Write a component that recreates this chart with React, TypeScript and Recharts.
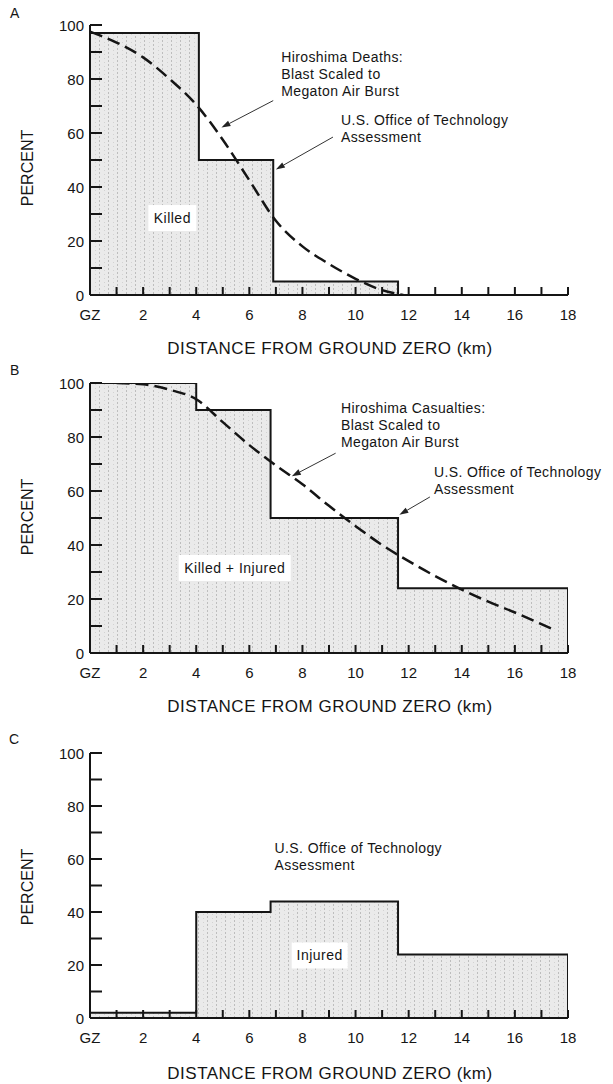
import React from 'react';
import { ComposedChart, Area, Line, XAxis, YAxis, ReferenceLine, ReferenceDot } from 'recharts';

const FONT = '"Liberation Sans", Arial, Helvetica, sans-serif';
const INK = '#151515';

// axis ticks (km from ground zero, percent)
const xTicks = [0, 1, 2, 3, 4, 5, 6, 7, 8, 9, 10, 11, 12, 13, 14, 15, 16, 17, 18];
const yTicks = [0, 10, 20, 30, 40, 50, 60, 70, 80, 90, 100];

// Panel A: killed (OTA step) and Hiroshima deaths curve
const killedX = [0, 4.1, 6.9, 11.6];
const killedPct = [97, 50, 5, 0];
const deathsX = [0, 1, 2, 3, 4, 5, 6, 7, 8, 9, 10, 11, 11.8];
const deathsPct = [97.5, 93.5, 88, 80, 70.5, 57.5, 42.5, 27.5, 18, 11.5, 6, 1.8, 0];

// Panel B: killed + injured (OTA step) and Hiroshima casualties curve
const casualtyX = [0, 4, 6.8, 11.6, 18];
const casualtyPct = [100, 90, 50, 24, 0];
const casualtiesCurveX = [1, 2, 3, 4, 5, 6, 7, 8, 9, 10, 11, 12, 13, 14, 15, 16, 17, 17.5];
const casualtiesCurvePct = [100, 99.5, 97.5, 94, 85.5, 77, 69.5, 62.5, 54.5, 47, 40, 34, 28.5, 23.5, 19, 15, 10.7, 8.5];

// Panel C: injured (OTA step)
const injuredX = [0, 4, 6.8, 11.6, 18];
const injuredPct = [2, 40, 44, 24, 0];

const zip = (xs: number[], ys: number[]) => xs.map((x, i) => ({ x, y: ys[i] }));

const YTick = (props: any) => {
  const { x, y, payload } = props;
  const v = payload.value;
  return (
    <g>
      {v !== 0 && <line x1={x} x2={x + 12} y1={y} y2={y} stroke={INK} strokeWidth={2} />}
      {v % 20 === 0 && (
        <text x={x - 6} y={y} textAnchor="end" dominantBaseline="central" fontSize={15} fill={INK} fontFamily={FONT}>
          {v}
        </text>
      )}
    </g>
  );
};

const XTick = (props: any) => {
  const { x, y, payload } = props;
  const v = payload.value;
  return (
    <g>
      {v !== 0 && <line x1={x} x2={x} y1={y} y2={y - 8} stroke={INK} strokeWidth={2} />}
      {v % 2 === 0 && (
        <text x={x} y={y + 19} textAnchor="middle" dominantBaseline="central" fontSize={15} fill={INK} fontFamily={FONT}>
          {v === 0 ? 'GZ' : v}
        </text>
      )}
    </g>
  );
};

const arrowShape = (p: any) => {
  const { x1, y1, x2, y2 } = p;
  const ang = Math.atan2(y2 - y1, x2 - x1);
  const L = 9;
  const W = 3;
  const bx = x2 - L * Math.cos(ang);
  const by = y2 - L * Math.sin(ang);
  const px = -Math.sin(ang) * W;
  const py = Math.cos(ang) * W;
  return (
    <g>
      <line x1={x1} y1={y1} x2={bx} y2={by} stroke="#333" strokeWidth={1} />
      <polygon points={`${x2},${y2} ${bx + px},${by + py} ${bx - px},${by - py}`} fill="#222" />
    </g>
  );
};

const noteShape = (lines: string[]) => (p: any) => (
  <g>
    {lines.map((l, i) => (
      <text
        key={i}
        x={p.cx}
        y={p.cy + i * 17}
        textAnchor="start"
        dominantBaseline="central"
        fontSize={14}
        letterSpacing={0.4}
        fill={INK}
        fontFamily={FONT}
      >
        {l}
      </text>
    ))}
  </g>
);

const boxedShape = (label: string, w: number) => (p: any) => (
  <g>
    <rect x={p.cx - w / 2} y={p.cy - 13} width={w} height={26} fill="#fff" />
    <text x={p.cx} y={p.cy} textAnchor="middle" dominantBaseline="central" fontSize={14} letterSpacing={0.5} fill={INK} fontFamily={FONT}>
      {label}
    </text>
  </g>
);

type Note = { x: number; y: number; lines: string[] };
type Arrow = { from: [number, number]; to: [number, number] };
type Boxed = { x: number; y: number; label: string; w: number };

type PanelProps = {
  id: string;
  top: number;
  plotH: number;
  steps: { x: number; y: number }[];
  curve?: { x: number; y: number }[];
  notes: Note[];
  arrows: Arrow[];
  boxed: Boxed;
};

const Panel = ({ id, top, plotH, steps, curve, notes, arrows, boxed }: PanelProps) => {
  const H = 25 + plotH + 65;
  return (
    <div style={{ position: 'absolute', left: 0, top, width: 613, height: H }}>
      <ComposedChart width={613} height={H} margin={{ top: 25, right: 45, bottom: 5, left: 0 }}>
        <defs>
          <pattern id={`dots-${id}`} patternUnits="userSpaceOnUse" width={9} height={4}>
            <rect x={0} y={0} width={9} height={4} fill="#eaeaea" />
            <rect x={0} y={0} width={1} height={2} fill="#bdbdbd" />
            <rect x={5} y={2} width={1} height={1} fill="#d2d2d2" />
          </pattern>
        </defs>
        <Area
          data={steps}
          dataKey="y"
          type="stepAfter"
          stroke={INK}
          strokeWidth={2}
          fill={`url(#dots-${id})`}
          fillOpacity={1}
          baseValue={0}
          isAnimationActive={false}
        />
        {curve && (
          <Line
            data={curve}
            dataKey="y"
            type="monotone"
            stroke={INK}
            strokeWidth={2.5}
            strokeDasharray="13 6"
            dot={false}
            isAnimationActive={false}
          />
        )}
        <XAxis
          type="number"
          dataKey="x"
          domain={[0, 18]}
          ticks={xTicks}
          interval={0}
          height={60}
          tickSize={0}
          tickMargin={0}
          tickLine={false}
          tick={<XTick />}
          axisLine={{ stroke: INK, strokeWidth: 2 }}
          allowDataOverflow
        />
        <YAxis
          type="number"
          domain={[0, 100]}
          ticks={yTicks}
          interval={0}
          width={90}
          tickSize={0}
          tickMargin={0}
          tickLine={false}
          tick={<YTick />}
          axisLine={{ stroke: INK, strokeWidth: 2 }}
          allowDataOverflow
        />
        <ReferenceDot x={boxed.x} y={boxed.y} r={0} shape={boxedShape(boxed.label, boxed.w)} ifOverflow="visible" />
        {notes.map((n, i) => (
          <ReferenceDot key={`n${i}`} x={n.x} y={n.y} r={0} shape={noteShape(n.lines)} ifOverflow="visible" />
        ))}
        {arrows.map((a, i) => (
          <ReferenceLine
            key={`a${i}`}
            segment={[{ x: a.from[0], y: a.from[1] }, { x: a.to[0], y: a.to[1] }]}
            shape={arrowShape}
            ifOverflow="visible"
          />
        ))}
      </ComposedChart>
    </div>
  );
};

const xTitle = 'DISTANCE FROM GROUND ZERO (km)';

export default function App() {
  return (
    <div style={{ position: 'absolute', left: 0, top: 0, width: 613, height: 1084, background: '#fff', overflow: 'hidden' }}>
      <Panel
        id="a"
        top={0}
        plotH={270}
        steps={zip(killedX, killedPct)}
        curve={zip(deathsX, deathsPct)}
        boxed={{ x: 3.1, y: 28.5, label: 'Killed', w: 48 }}
        notes={[
          { x: 7.2, y: 88, lines: ['Hiroshima Deaths:', 'Blast Scaled to', 'Megaton Air Burst'] },
          { x: 9.45, y: 64.8, lines: ['U.S. Office of Technology', 'Assessment'] },
        ]}
        arrows={[
          { from: [6.9, 72], to: [4.95, 62] },
          { from: [9.15, 58.5], to: [7.0, 46.5] },
        ]}
      />
      <Panel
        id="b"
        top={358}
        plotH={270}
        steps={zip(casualtyX, casualtyPct)}
        curve={zip(casualtiesCurveX, casualtiesCurvePct)}
        boxed={{ x: 5.45, y: 31.5, label: 'Killed + Injured', w: 112 }}
        notes={[
          { x: 9.45, y: 90.7, lines: ['Hiroshima Casualties:', 'Blast Scaled to', 'Megaton Air Burst'] },
          { x: 12.95, y: 67, lines: ['U.S. Office of Technology', 'Assessment'] },
        ]}
        arrows={[
          { from: [9.25, 74], to: [7.6, 65.5] },
          { from: [12.8, 57.8], to: [11.65, 51.2] },
        ]}
      />
      <Panel
        id="c"
        top={728}
        plotH={265}
        steps={zip(injuredX, injuredPct)}
        boxed={{ x: 8.65, y: 23.6, label: 'Injured', w: 56 }}
        notes={[{ x: 6.95, y: 64.3, lines: ['U.S. Office of Technology', 'Assessment'] }]}
        arrows={[]}
      />
      <svg width={613} height={1084} style={{ position: 'absolute', left: 0, top: 0, pointerEvents: 'none' }}>
        <g fontFamily={FONT} fill={INK}>
          <text x={10} y={13} fontSize={14} dominantBaseline="central">A</text>
          <text x={10} y={370} fontSize={14} dominantBaseline="central">B</text>
          <text x={9} y={739} fontSize={14} dominantBaseline="central">C</text>
          {[348, 706, 1073].map((y) => (
            <text key={y} x={330} y={y} fontSize={17} letterSpacing={0.5} textAnchor="middle" dominantBaseline="central">
              {xTitle}
            </text>
          ))}
          {[168, 517, 887].map((y) => (
            <text
              key={y}
              x={27}
              y={y}
              fontSize={16}
              textAnchor="middle"
              dominantBaseline="central"
              transform={`rotate(-90 27 ${y})`}
            >
              PERCENT
            </text>
          ))}
        </g>
      </svg>
    </div>
  );
}
